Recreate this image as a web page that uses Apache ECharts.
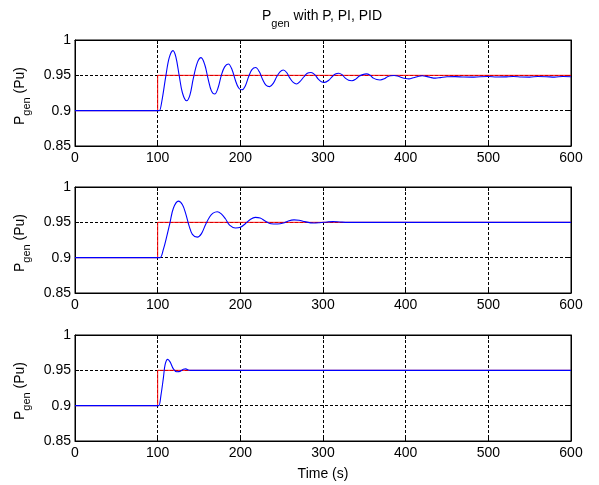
<!DOCTYPE html>
<html><head><meta charset="utf-8">
<script src="https://cdn.jsdelivr.net/npm/echarts@6/dist/echarts.min.js"></script>
<style>html,body{margin:0;padding:0;background:#fff}#c{width:599px;height:485px}</style>
</head><body><div id="c"></div>
<script>
// ---- data ----
const xTickLabels = ['0','100','200','300','400','500','600'];
const yTickLabels = ['0.85','0.9','0.95','1'];
const referenceStep = [[0,0.9],[100,0.9],[100,0.95],[600,0.95]];
const pResponse = [[0,0.9],[100,0.9],[102,0.9],[105,0.913],[110,0.95],[114,0.975],[118.5,0.985],[122,0.976],[126,0.95],[130,0.925],[135,0.914],[139,0.922],[143,0.945],[148,0.968],[152.5,0.975],[157,0.965],[161,0.945],[165,0.928],[169,0.9235],[173,0.932],[177,0.95],[181,0.962],[185.5,0.966],[190,0.958],[194,0.943],[198,0.932],[202,0.9295],[206,0.935],[210,0.948],[214,0.958],[218.5,0.961],[223,0.955],[227,0.944],[231,0.936],[235.5,0.934],[240,0.939],[244,0.948],[248,0.955],[252,0.9575],[256,0.954],[260,0.946],[264,0.94],[268,0.9377],[272,0.941],[277,0.948],[281,0.953],[285.5,0.954],[290,0.951],[294,0.945],[298,0.941],[302,0.940],[307,0.943],[311,0.948],[315,0.952],[319,0.953],[323,0.951],[327,0.946],[331,0.943],[335,0.9424],[340,0.945],[344,0.949],[348,0.951],[352.5,0.952],[357,0.950],[361,0.946],[365,0.944],[369,0.9434],[374,0.945],[378,0.948],[382,0.9495],[386,0.9497],[390,0.949],[395,0.947],[400,0.9455],[404,0.945],[409,0.9465],[414,0.948],[420,0.9495],[425,0.9485],[430,0.947],[436,0.946],[442,0.9468],[450,0.948],[460,0.9482],[470,0.9476],[480,0.9474],[490,0.948],[500,0.9483],[510,0.9476],[520,0.9478],[530,0.9484],[540,0.9477],[550,0.9475],[560,0.9483],[570,0.9481],[580,0.9475],[590,0.9483],[600,0.948]];
const piResponse = [[0,0.9],[100,0.9],[103,0.9],[107,0.912],[111,0.93],[115,0.95],[119,0.97],[125,0.98],[130,0.975],[134,0.962],[138,0.945],[142,0.933],[148,0.929],[153,0.934],[158,0.947],[163,0.958],[167,0.963],[172,0.965],[177,0.962],[182,0.955],[187,0.946],[194,0.942],[200,0.943],[206,0.948],[212,0.954],[218,0.957],[224,0.956],[230,0.952],[237,0.948],[245,0.9476],[252,0.949],[258,0.952],[265,0.9535],[271,0.953],[278,0.951],[288,0.949],[296,0.9495],[305,0.9505],[312,0.951],[320,0.9505],[330,0.95],[600,0.95]];
const pidResponse = [[0,0.9],[100,0.9],[101.5,0.9],[104,0.915],[107,0.94],[109,0.958],[112,0.9655],[115,0.962],[119,0.952],[123,0.948],[127,0.9485],[131,0.9515],[134,0.952],[137,0.9505],[140,0.95],[600,0.95]];
const responses = [pResponse, piResponse, pidResponse];

// ---- layout ----
const FONT = 'Liberation Sans, Arial, sans-serif';
const FS = 14;
const tops = [40, 187, 335];
const H = 106, L = 75, W = 496;
const grids = tops.map(t => ({left: L, top: t, width: W, height: H, show: true, borderColor: '#000', borderWidth: 1}));

const richSub = {
  p: {fontSize: FS, lineHeight: 15, verticalAlign: 'top', fontFamily: FONT, color: '#000', fontWeight: 'normal'},
  s: {fontSize: 11, lineHeight: 12, verticalAlign: 'top', padding: [9, 0, 0, 0], fontFamily: FONT, color: '#000', fontWeight: 'normal'}
};

const xAxes = [], yAxes = [];
for (let i = 0; i < 3; i++) {
  xAxes.push({
    type: 'value', gridIndex: i, min: 0, max: 600, interval: 100, position: 'bottom',
    axisLine: {show: true, onZero: false, lineStyle: {color: '#000', width: 1}},
    axisTick: {show: true, inside: true, length: 4, lineStyle: {color: '#000'}},
    axisLabel: {show: true, margin: 5, fontSize: FS, fontFamily: FONT, color: '#000',
                formatter: (v) => xTickLabels[Math.round(v / 100)]},
    splitLine: {show: true, lineStyle: {color: '#000', width: 1, type: [3, 2]}},
    name: i === 2 ? 'Time (s)' : '', nameLocation: 'middle', nameGap: 26,
    nameTextStyle: {fontSize: FS, fontFamily: FONT, color: '#000'}
  });
  yAxes.push({
    type: 'value', gridIndex: i, min: 0.85, max: 1, interval: 0.05, position: 'left',
    axisLine: {show: true, onZero: false, lineStyle: {color: '#000', width: 1}},
    axisTick: {show: true, inside: true, length: 4, lineStyle: {color: '#000'}},
    axisLabel: {show: true, margin: 4, fontSize: FS, fontFamily: FONT, color: '#000',
                formatter: (v) => yTickLabels[Math.round((v - 0.85) / 0.05)]},
    splitLine: {show: true, lineStyle: {color: '#000', width: 1, type: [3, 2]}},
    name: '{p|P}{s|gen}{p| (Pu)}', nameLocation: 'middle', nameGap: 36,
    nameTextStyle: {rich: richSub, padding: [0, 6, 0, 0]}
  });
}
for (let i = 0; i < 3; i++) {
  xAxes.push({
    type: 'value', gridIndex: i, min: 0, max: 600, interval: 100, position: 'top',
    axisLine: {show: true, onZero: false, lineStyle: {color: '#000'}},
    axisTick: {show: true, inside: true, length: 4, lineStyle: {color: '#000'}},
    axisLabel: {show: false}, splitLine: {show: false}
  });
  yAxes.push({
    type: 'value', gridIndex: i, min: 0.85, max: 1, interval: 0.05, position: 'right',
    axisLine: {show: true, onZero: false, lineStyle: {color: '#000'}},
    axisTick: {show: true, inside: true, length: 4, lineStyle: {color: '#000'}},
    axisLabel: {show: false}, splitLine: {show: false}
  });
}

const series = [];
for (let i = 0; i < 3; i++) {
  series.push({type: 'line', xAxisIndex: i, yAxisIndex: i, data: referenceStep, symbol: 'none',
               lineStyle: {color: '#ff0000', width: 1}, silent: true});
  series.push({type: 'line', xAxisIndex: i, yAxisIndex: i, data: responses[i], symbol: 'none',
               smooth: 0.35, lineStyle: {color: '#0000ff', width: 1.1}, silent: true});
}

const chart = echarts.init(document.getElementById('c'), null, {renderer: 'canvas'});
chart.setOption({
  animation: false,
  backgroundColor: '#fff',
  title: {
    text: '{p|P}{s|gen}{p| with P, PI, PID}',
    left: 322, top: 9, padding: 0, textAlign: 'center',
    textStyle: {fontWeight: 'normal', rich: richSub}
  },
  grid: grids, xAxis: xAxes, yAxis: yAxes, series: series
});
</script></body></html>
